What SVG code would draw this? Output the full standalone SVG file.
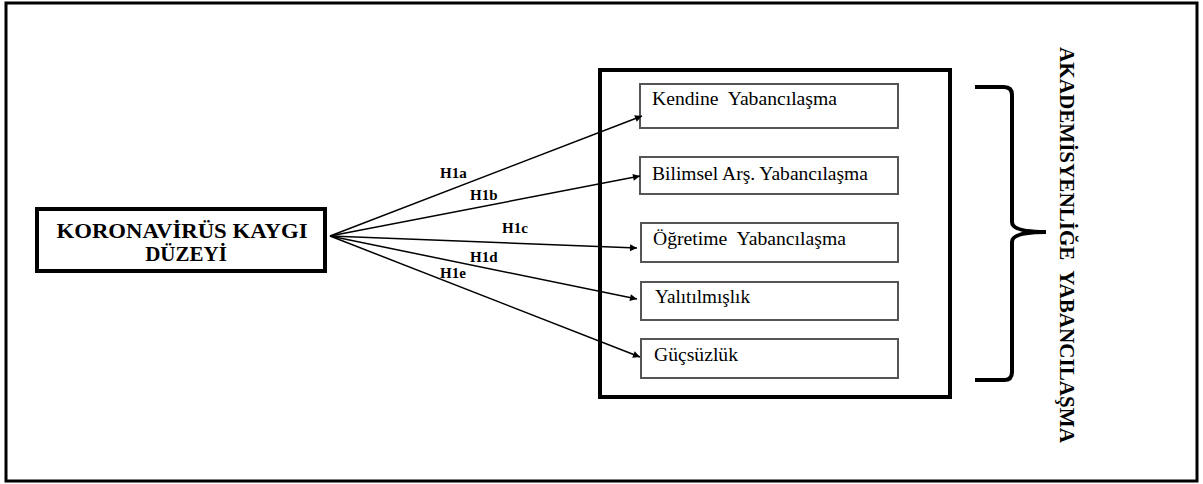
<svg xmlns="http://www.w3.org/2000/svg" width="1203" height="484" viewBox="0 0 1203 484">
<style>
text{font-family:"Liberation Serif","Times New Roman",serif;fill:#000;white-space:pre}
.b{font-weight:bold}
.item{fill:#fff;stroke:#555;stroke-width:2}
.conn{stroke:#000;stroke-width:1.5;fill:none;marker-end:url(#ah)}
</style>
<defs>
<marker id="ah" viewBox="0 0 10 10" refX="10" refY="5" markerWidth="9" markerHeight="7" markerUnits="userSpaceOnUse" orient="auto">
<path d="M0,0 L10,5 L0,10 z" fill="#000"/>
</marker>
</defs>
<rect x="0" y="0" width="1203" height="484" fill="#fff"/>
<rect id="frame" x="6" y="3" width="1191" height="478" fill="none" stroke="#000" stroke-width="3"/>
<g id="source">
<rect x="37" y="209" width="288" height="62" fill="#fff" stroke="#000" stroke-width="4"/>
<text class="b" x="182" y="238" font-size="21" text-anchor="middle" textLength="251" lengthAdjust="spacingAndGlyphs">KORONAVİRÜS KAYGI</text>
<text class="b" x="186" y="261" font-size="21" text-anchor="middle">DÜZEYİ</text>
</g>
<g id="group-box">
<rect x="600" y="70" width="350" height="327" fill="none" stroke="#000" stroke-width="4"/>
</g>
<g id="n1"><rect class="item" x="640" y="84" width="258" height="44"/><text xml:space="preserve" x="652" y="105" font-size="19" textLength="185" lengthAdjust="spacingAndGlyphs">Kendine  Yabancılaşma</text></g>
<g id="n2"><rect class="item" x="640" y="157" width="258" height="37"/><text x="652" y="180" font-size="19" textLength="216" lengthAdjust="spacingAndGlyphs">Bilimsel Arş. Yabancılaşma</text></g>
<g id="n3"><rect class="item" x="641" y="223" width="257" height="39"/><text xml:space="preserve" x="653" y="245" font-size="19" textLength="193" lengthAdjust="spacingAndGlyphs">Öğretime  Yabancılaşma</text></g>
<g id="n4"><rect class="item" x="641" y="282" width="257" height="38"/><text x="655" y="303" font-size="19" textLength="95" lengthAdjust="spacingAndGlyphs">Yalıtılmışlık</text></g>
<g id="n5"><rect class="item" x="641" y="339" width="257" height="39"/><text x="654" y="361" font-size="19" textLength="84" lengthAdjust="spacingAndGlyphs">Güçsüzlük</text></g>
<g id="connectors">
<line class="conn" x1="330" y1="236" x2="642" y2="116"/>
<line class="conn" x1="330" y1="236" x2="640" y2="176"/>
<line class="conn" x1="330" y1="236" x2="637" y2="248"/>
<line class="conn" x1="330" y1="236" x2="637" y2="299"/>
<line class="conn" x1="330" y1="236" x2="640" y2="357"/>
</g>
<g id="labels">
<text class="b" x="440" y="178" font-size="15">H1a</text>
<text class="b" x="470" y="200" font-size="15">H1b</text>
<text class="b" x="502" y="233" font-size="15">H1c</text>
<text class="b" x="470" y="262" font-size="15">H1d</text>
<text class="b" x="440" y="278" font-size="15">H1e</text>
</g>
<g id="brace">
<path d="M975,87 L1004,87 Q1012,87 1012,95 L1012,222 Q1012,232 1046,232 Q1012,232 1012,242 L1012,372 Q1012,380 1004,380 L975,380" fill="none" stroke="#000" stroke-width="4"/>
</g>
<g id="side-label">
<text class="b" xml:space="preserve" transform="translate(1060,47) rotate(90)" x="0" y="0" font-size="21" textLength="396" lengthAdjust="spacingAndGlyphs">AKADEMİSYENLİĞE  YABANCILAŞMA</text>
</g>
</svg>
